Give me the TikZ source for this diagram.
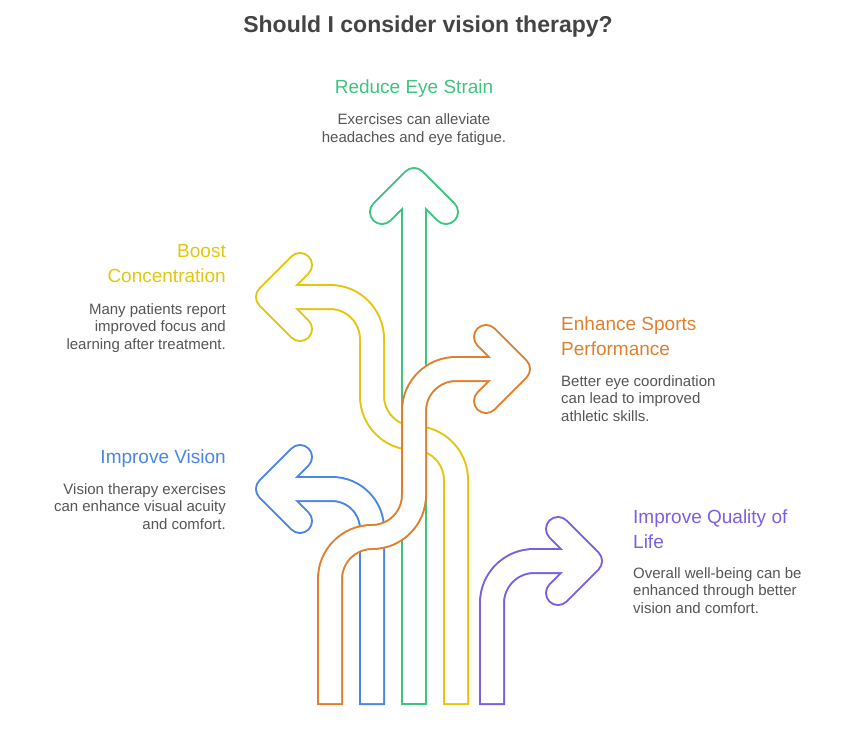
\documentclass[tikz,border=0pt]{standalone}
\usepackage{fontspec}
\setmainfont{Liberation Sans}
\usepackage{tikz}
\definecolor{strainGreen}{HTML}{3DC47E}
\definecolor{focusYellow}{HTML}{E2C60F}
\definecolor{visionBlue}{HTML}{4A86E8}
\definecolor{sportsOrange}{HTML}{E07F2C}
\definecolor{lifePurple}{HTML}{7B5FE3}
\definecolor{bodyGray}{HTML}{555555}
\definecolor{titleGray}{HTML}{444444}

\begin{document}
\begin{tikzpicture}[x=1pt, y=-1pt,
  rim/.style={line width=26pt, line join=round, line cap=butt},
  core/.style={line width=22pt, line join=round, line cap=butt, white, shorten <=2pt},
  headrim/.style={line width=26pt, line join=round, line cap=round},
  headcore/.style={line width=22pt, line join=round, line cap=round, white},
  heading/.style={font=\fontsize{19}{25}\selectfont, inner sep=0pt},
  body/.style={font=\fontsize{15}{17.5}\selectfont, text=bodyGray, inner sep=0pt}]
  \useasboundingbox (0,0) rectangle (858,738);
  \node[anchor=base, font=\fontsize{23}{28}\selectfont\bfseries, text=titleGray] (title) at (428,33) {Should I consider vision therapy?};
  \draw[rim, strainGreen] (414,705) -- (414,180);
  \draw[headrim, strainGreen] (382,212) -- (414,180) -- (446,212);
  \draw[core] (414,705) -- (414,180);
  \draw[headcore] (382,212) -- (414,180) -- (446,212);
  \draw[rim, focusYellow, rounded corners=42pt] (456,705) -- (456,438) -- (372,438) -- (372,297) -- (268,297);
  \draw[headrim, focusYellow] (300,265) -- (268,297) -- (300,329);
  \draw[core, rounded corners=42pt] (456,705) -- (456,438) -- (372,438) -- (372,297) -- (268,297);
  \draw[headcore] (300,265) -- (268,297) -- (300,329);
  \draw[rim, visionBlue, rounded corners=40pt] (372,705) -- (372,489) -- (268,489);
  \draw[headrim, visionBlue] (300,457) -- (268,489) -- (300,521);
  \draw[core, rounded corners=40pt] (372,705) -- (372,489) -- (268,489);
  \draw[headcore] (300,457) -- (268,489) -- (300,521);
  \draw[rim, lifePurple, rounded corners=42pt] (492,705) -- (492,561) -- (590,561);
  \draw[headrim, lifePurple] (558,529) -- (590,561) -- (558,593);
  \draw[core, rounded corners=42pt] (492,705) -- (492,561) -- (590,561);
  \draw[headcore] (558,529) -- (590,561) -- (558,593);
  \draw[rim, sportsOrange, rounded corners=42pt] (330,705) -- (330,537) -- (414,537) -- (414,369) -- (518,369);
  \draw[headrim, sportsOrange] (486,337) -- (518,369) -- (486,401);
  \draw[core, rounded corners=42pt] (330,705) -- (330,537) -- (414,537) -- (414,369) -- (518,369);
  \draw[headcore] (486,337) -- (518,369) -- (486,401);
  \node[heading, anchor=base, text=strainGreen] (strainHead) at (414,94) {Reduce Eye Strain};
  \node[body, anchor=north, align=center] (strainText) at (414,113.5) {Exercises can alleviate\\headaches and eye fatigue.};
  \node[heading, anchor=north east, align=right, text=focusYellow] (focusHead) at (226,244.4) {Boost\\Concentration};
  \node[body, anchor=north east, align=right] (focusText) at (226,303.3) {Many patients report\\improved focus and\\learning after treatment.};
  \node[heading, anchor=north west, align=left, text=sportsOrange] (sportsHead) at (561,316.4) {Enhance Sports\\Performance};
  \node[body, anchor=north west, align=left] (sportsText) at (561,375.3) {Better eye coordination\\can lead to improved\\athletic skills.};
  \node[heading, anchor=base east, text=visionBlue] (visionHead) at (226,463) {Improve Vision};
  \node[body, anchor=north east, align=right] (visionText) at (226,483.3) {Vision therapy exercises\\can enhance visual acuity\\and comfort.};
  \node[heading, anchor=north west, align=left, text=lifePurple] (lifeHead) at (633,509.4) {Improve Quality of\\Life};
  \node[body, anchor=north west, align=left] (lifeText) at (633,567.3) {Overall well-being can be\\enhanced through better\\vision and comfort.};
\end{tikzpicture}
\end{document}
